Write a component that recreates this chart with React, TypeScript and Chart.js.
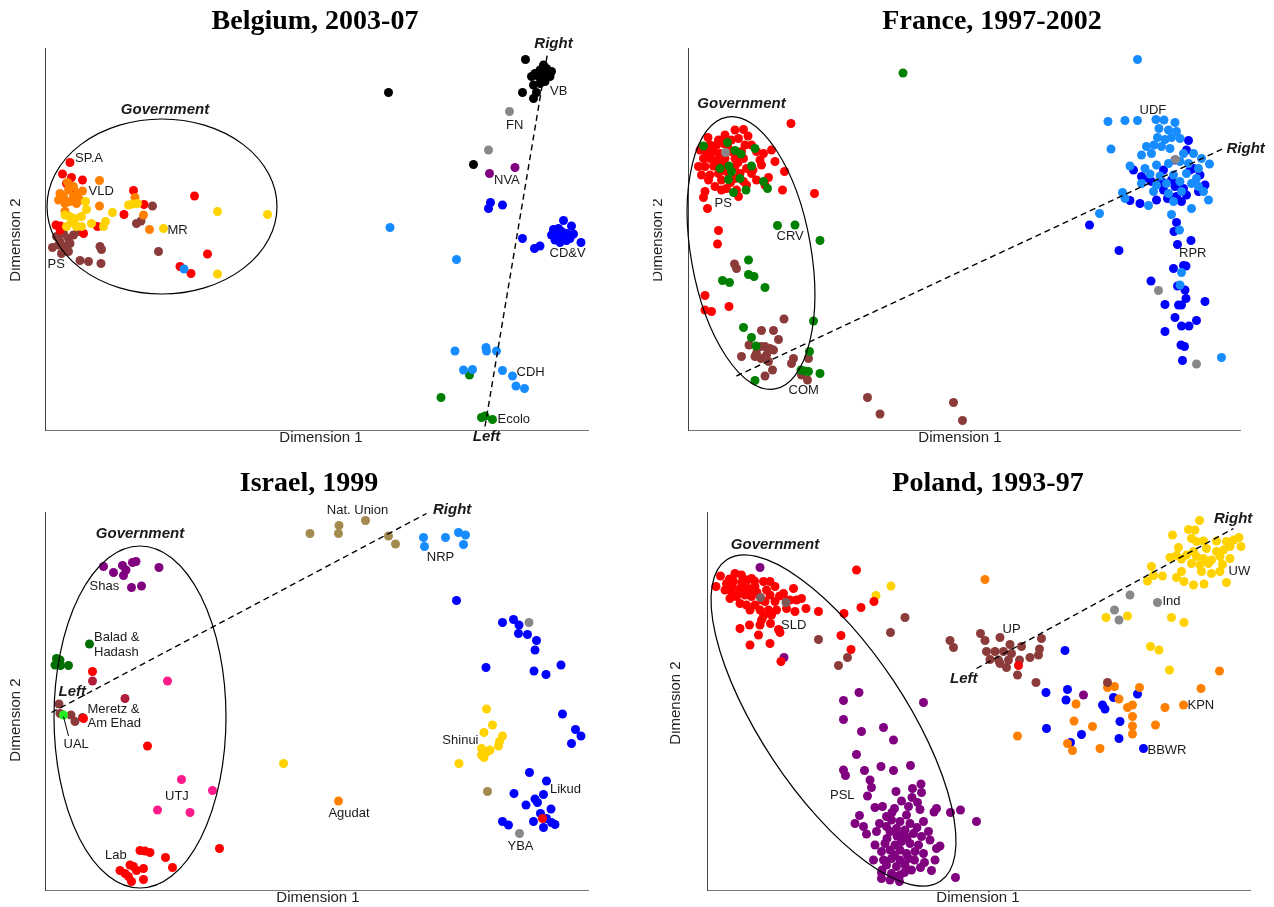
import React, { useEffect, useRef } from 'react';
import { Chart, registerables } from 'chart.js';
Chart.register(...registerables);

type Pt = [number, number];
type Lbl = [string, number, number, CanvasTextAlign, boolean?];

// ---------- colours ----------
const RED = '#FF0000';
const ORANGE = '#FF8000';
const GOLD = '#FFD200';
const BROWN = '#8C3B3B';
const BLUE = '#0000FF';
const LTBLUE = '#178CFF';
const BLACK = '#000000';
const GRAY = '#888888';
const PURPLE = '#800080';
const GREEN = '#008000';
const DKGREEN = '#006E00';
const LTGREEN = '#22EE22';
const PINK = '#FF1A8C';
const TAN = '#A38A4F';
const CRIMSON = '#B01E3C';
const BROWNGRAY = '#7E5A5A';

// ---------- Belgium, 2003-07 ----------
const BE_RED: Pt[] = [[5,53.5],[3.5,51.2],[5.3,50.5],[4.3,49.3],[7.5,50],[5.7,48],[29.9,46.8],[32.5,35.2],[27,32.7],[29.2,31.3],[17.7,47.9],[19.8,45.1],[15.8,43.1],[10.5,40.7],[2.2,41],[3.1,40.8],[7.7,39.3],[3,40]];
const BE_ORANGE: Pt[] = [[10.9,49.9],[5.7,48.7],[4.7,48],[3,47.3],[3.7,46.7],[5.7,46.7],[7,46],[7.5,47.8],[4,45.3],[5,45.7],[6.3,45.3],[10.9,44.8],[18,46.5],[19.7,43],[20.9,40.1],[4,43.7],[2.7,46],[6.5,47.3],[4.5,49.5]];
const BE_GOLD: Pt[] = [[8.1,45.7],[8.3,44.1],[4.9,42.7],[4,43],[5.3,41.5],[6.3,40.7],[7.3,40.7],[4.3,40.7],[9.3,41.3],[11.7,40.7],[12.1,41.7],[13.5,43.5],[16.7,45],[17.5,45.2],[18.5,45.3],[23.7,40.3],[34.5,43.7],[44.5,43.1],[34.5,31.2],[7.3,42.7],[6,42.3]];
const BE_BROWN: Pt[] = [[2.3,38.7],[3.7,39.3],[4.7,38.3],[5.7,39],[6.7,39.7],[2.7,37],[4,36.7],[5,37.3],[3.3,35.3],[4.7,35.7],[3,37.7],[11,36.7],[11.3,36.1],[7,33.9],[8.7,33.7],[11.2,33.3],[22.7,35.7],[18.3,41.3],[19.2,41.8],[21.5,44.8],[1.5,36.5]];
const BE_LTBLUE: Pt[] = [[27.8,32.2],[69,40.5],[82.3,34.1],[82,15.8],[88.2,16.5],[88.3,15.8],[90.3,15.8],[83.7,12],[85.5,12.1],[91.5,11.9],[93.5,10.8],[94.2,8.8],[95.9,8.3]];
const BE_BLACK: Pt[] = [[96.1,74.1],[99.7,73],[100.3,72.3],[99,72],[101.3,71.7],[98,71.3],[97.3,70.7],[98.7,70.7],[100,71],[101,70.7],[99.3,70],[97.7,69],[100,69.7],[99,69.3],[95.5,67.5],[98.3,67.5],[97.7,66.3],[68.7,67.5],[85.7,53.1]];
const BE_GRAY: Pt[] = [[92.9,63.7],[88.7,56]];
const BE_PURPLE: Pt[] = [[94,52.5],[88.9,51.3]];
const BE_BLUE: Pt[] = [[89.1,45.5],[88.7,44.3],[91.5,45],[95.5,38.3],[97.9,36.3],[99,36.8],[103.7,41.9],[105.3,40.8],[101.7,40.1],[102.7,40.3],[103.3,39.7],[101.3,39],[102.3,39],[104.3,39.3],[105.7,39.2],[103.7,38.3],[105,38.3],[103,37.5],[104.3,37.9],[107.2,37.5],[102,38]];
const BE_GREEN: Pt[] = [[84.9,11],[79.2,6.5],[87.3,2.5],[88,2.8],[89.5,2.1]];
const BE_LABELS: Lbl[] = [
  ['Government', 24, 64, 'center', true], ['SP.A', 6, 54.4, 'left'], ['VLD', 8.7, 47.7, 'left'],
  ['MR', 24.5, 39.9, 'left'], ['PS', 0.5, 33.1, 'left'], ['Right', 101.7, 77.2, 'center', true],
  ['VB', 101, 67.7, 'left'], ['FN', 92.2, 60.9, 'left'], ['NVA', 89.8, 49.9, 'left'],
  ['CD&V', 100.9, 35.3, 'left'], ['CDH', 94.3, 11.5, 'left'], ['Ecolo', 90.5, 2.1, 'left'],
  ['Left', 88.3, -1.4, 'center', true],
];
const BE_ELLIPSE: [number, number, number, number, number] = [23.4, 44.7, 23, 17.5, 0];
const BE_DASHED: Pt[] = [[88, 0.7], [100.5, 75.3]];

// ---------- France, 1997-2002 ----------
const FR_RED: Pt[] = [[20.6,61.3],[9.4,60],[11.1,60.1],[7.4,59],[6.1,58],[8.7,58],[10.1,58.3],[4.4,57],[5.7,57],[7.1,57.3],[11.4,57],[12.7,57],[2.4,56],[3.7,55.7],[5.1,55.7],[6.4,55.3],[8.7,55.7],[10.7,55.7],[13.7,55.7],[15.1,55.3],[16.7,56],[3.1,54.3],[4.4,54.3],[5.7,54],[7.4,54.3],[9.4,54.3],[11.1,54.3],[14.4,54],[2.1,52.7],[3.4,52.7],[5.1,52.8],[6.7,53],[9.4,52.7],[11.7,52.3],[14.7,53],[17.4,53.7],[2.7,51],[4.4,51],[6.1,51.3],[7.7,51.7],[10.4,51.3],[12.7,51.3],[16.1,50.5],[4.1,50],[6.7,50],[9.4,50.3],[11.1,49.7],[13.7,50],[19.3,51.7],[15.4,49],[5.4,48.7],[7.7,48.3],[11.7,49],[3.4,47.7],[6.7,48],[9.7,48],[3.1,46.5],[10.1,46.7],[3.9,44.3],[18.9,48],[25.3,47.3],[6.1,39.9],[5.9,37.2],[3.4,26.9],[3.4,24],[4.7,23.7],[8.2,24.7],[8,56.5],[12,58.8],[4,58.5],[13,52],[10,53.5],[7,52],[8.5,49.5]];
const FR_GREEN: Pt[] = [[3.1,56.8],[7.9,57.5],[9.4,55.9],[10.6,55.2],[13.4,56.3],[6.4,52.3],[8.2,52.8],[8.7,51.7],[12.7,52.8],[8.1,50.1],[10.4,50.3],[15.1,49.7],[15.9,48.3],[9.1,47.5],[11.6,48],[17.9,40.9],[21.4,41],[26.4,37.9],[12.1,34],[12.1,31.1],[13.2,30.7],[6.9,29.9],[8.3,29.5],[15.4,28.5],[11.1,20.5],[12.7,18.5],[13.6,16.8],[25.1,21.8],[24.3,15.7],[22.6,12],[24.1,11.7],[26.4,11.3],[13.4,9.9],[23.4,11.8],[43,71.4]];
const FR_BROWN: Pt[] = [[9.3,33.2],[9.7,32.3],[19.2,22.2],[14.7,19.9],[17.1,19.9],[12.2,17],[14.6,16.7],[15.4,16.7],[16.4,16.3],[13.7,15.3],[15.7,15],[17.1,16],[18.1,18.1],[10.7,14.7],[13.4,14.7],[14.6,14.3],[16.1,13.7],[21.1,14.3],[20.7,13.3],[24.1,14.3],[16.9,12],[15.4,10.8],[22.7,11],[23.9,10],[35.9,6.5],[38.4,3.2],[53.1,5.5],[54.9,1.9]];
const FR_GRAY: Pt[] = [[7.5,55.5],[97.5,54.1],[94.1,27.9],[101.7,13.2]];
const FR_LTBLUE: Pt[] = [[89.9,74.1],[84,61.7],[87.4,61.9],[89.9,61.9],[93.6,62.1],[95.2,62],[97.4,61.5],[94.2,60.3],[96.1,60],[97.7,59.7],[93.9,58.5],[95.4,58.1],[96.7,58.5],[98.4,58.3],[84.6,56.2],[91.7,56.7],[93.2,57],[94.7,56.7],[96.4,56.3],[90.7,55],[92.7,55.3],[99.1,55.3],[101.1,55.3],[102.7,54.3],[104.3,53.2],[88.4,52.8],[91.4,52.3],[93.7,53],[96.1,53.3],[98.4,53.7],[100.1,53.3],[102.1,52.3],[92.4,51.2],[94.4,50.8],[97.1,51],[99.7,51.3],[101.7,50.3],[90.7,49.3],[93.7,49],[95.7,49.3],[98.4,49.7],[100.7,49.3],[102.1,48.7],[86.9,47.5],[87.4,46.3],[93.1,47.7],[96.1,47.3],[98.7,47.7],[103.1,47.7],[97.1,45.7],[92.1,44.9],[100.7,44.3],[104.1,46],[82.3,43.3],[96.7,43.1],[98.3,40],[98.7,31.5],[98.4,29],[106.7,14.5]];
const FR_BLUE: Pt[] = [[100.1,57.9],[80.3,41],[89.1,52],[90.7,50.7],[92.1,50.3],[95.1,52],[97.4,54],[99.7,56],[100.4,52],[102.4,51],[92.7,49.7],[94.7,49.7],[96.7,50],[97.4,48.7],[95.1,48],[99.1,48.3],[102.1,47.7],[103.4,49],[97.7,46.7],[99.7,47],[88.4,45.9],[90.4,45.3],[93.7,46],[95.9,46.3],[98.7,45.7],[101.1,52.3],[97.7,41.5],[97.2,39.7],[97.9,37.1],[100.6,37.9],[86.2,35.9],[99.1,32.9],[99.6,32.8],[97.1,32.3],[92.6,29.8],[97.9,28.8],[99.4,28],[99.6,26.3],[95.4,25.1],[98.1,25],[98.7,25],[103.4,25.7],[97.4,22.5],[98.7,20.8],[100.2,20.8],[101.7,21.9],[95.4,19.7],[98.6,17],[99.3,16.7],[98.9,13.9]];
const FR_LABELS: Lbl[] = [
  ['Government', 10.7, 65.2, 'center', true], ['PS', 5.3, 45.3, 'left'], ['CRV', 17.7, 38.7, 'left'],
  ['COM', 20.1, 8, 'left'], ['UDF', 90.3, 63.9, 'left'], ['RPR', 98.2, 35.3, 'left'],
  ['Right', 107.7, 56.2, 'left', true],
];
const FR_ELLIPSE: [number, number, number, number, number] = [12.6, 35.4, 12, 27.6, -10];
const FR_DASHED: Pt[] = [[9.7, 10.8], [107.1, 56.3]];

// ---------- Israel, 1999 ----------
const IL_SHAS: Pt[] = [[11.7,64.7],[13.7,63.5],[15.5,64.9],[16.2,64],[15.7,62.9],[17.5,65.5],[18.2,65.7],[22.8,64.5],[17.3,60.5],[19.3,60.8]];
const IL_DKGREEN: Pt[] = [[8.9,49.2],[2.3,46.3],[3,46],[2,45],[3.1,44.9],[4.7,44.9]];
const IL_LTGREEN: Pt[] = [[3.7,35]];
const IL_RED: Pt[] = [[9.5,43.7],[20.5,28.8],[34.9,8.3],[24.1,6.5],[25.5,4.5],[19,7.9],[20,7.8],[21,7.5],[17,5],[17.7,4.7],[15,3.9],[16,3.3],[16.7,2.7],[18.3,3.9],[19.7,4.3],[19.7,2.1],[17.3,1.7],[7.7,34.3],[99.5,14.3]];
const IL_CRIMSON: Pt[] = [[9.5,41.8],[16,38.3]];
const IL_BROWN: Pt[] = [[2.8,37.2],[3,35.3],[5.2,35],[6,33.7],[7.5,34.5]];
const IL_PINK: Pt[] = [[24.5,41.8],[27.3,22.1],[33.5,19.9],[22.5,16],[29,15.5]];
const IL_GOLD: Pt[] = [[47.7,25.3],[88.3,36.2],[89.5,33],[87.8,31.5],[91.5,30.8],[90.9,29.7],[90.7,28.8],[87.3,28.3],[89,28],[88.5,27.7],[87.3,27],[87.8,26.5],[82.8,25.3]];
const IL_TAN: Pt[] = [[53,71.3],[58.8,72.9],[58.7,71.3],[64.1,73.9],[68.7,70.8],[70.1,69.2],[88.5,19.7]];
const IL_LTBLUE: Pt[] = [[75.7,70.5],[75.9,68.7],[80.1,70.5],[82.7,71.5],[84.1,71],[83.7,69.1]];
const IL_BLUE: Pt[] = [[82.3,57.9],[91.5,53.5],[93.7,54.1],[94.8,53],[94.7,51.3],[96.5,51.1],[98.3,49.9],[98,48],[88.2,44.5],[97.8,43.8],[100.2,43.1],[103.2,45],[103.5,35.2],[106.1,32.1],[107.2,30.8],[105.3,29.3],[96.9,23.5],[100.3,21.8],[93.8,19.3],[99.7,19.1],[98,18.2],[98.5,17.5],[96.2,17],[101.2,16.2],[99.1,15.3],[97.7,13.7],[91.5,13.7],[92.7,13],[99.7,12.5],[101.3,13.5],[102,13.1],[100.3,14.3]];
const IL_GRAY: Pt[] = [[96.8,53.5],[94.9,11.3]];
const IL_ORANGE: Pt[] = [[58.7,17.8]];
const IL_LABELS: Lbl[] = [
  ['Government', 19, 71.3, 'center', true], ['Shas', 8.9, 60.8, 'left'], ['Balad &', 9.8, 50.5, 'left'],
  ['Hadash', 9.8, 47.5, 'left'], ['Left', 2.7, 39.7, 'left', true], ['Meretz &', 8.5, 36.2, 'left'],
  ['Am Ehad', 8.5, 33.3, 'left'], ['UAL', 3.7, 29.1, 'left'], ['UTJ', 24, 18.7, 'left'], ['Lab', 12, 7, 'left'],
  ['Nat. Union', 62.5, 75.9, 'center'], ['Right', 77.6, 76, 'left', true], ['NRP', 79.1, 66.5, 'center'],
  ['Shinui', 86.7, 30, 'right'], ['Likud', 101, 20.1, 'left'], ['Agudat', 60.8, 15.3, 'center'],
  ['YBA', 95.1, 8.8, 'center'],
];
const IL_ELLIPSE: [number, number, number, number, number] = [19, 34.6, 17.2, 34.2, 0];
const IL_DASHED: Pt[] = [[1.3, 35.5], [76.3, 75.3]];
const IL_LEADER: Pt[] = [[3.7, 34.7], [4.7, 30.8]];

// ---------- Poland, 1993-97 ----------
const PL_RED: Pt[] = [[2.7,62.8],[1.8,60.7],[5.6,63.3],[6.9,63],[8.9,62.3],[3.9,61.3],[5.3,61.7],[11.3,61.7],[12.6,61.7],[3.6,60],[4.9,59.7],[6.6,60.3],[8.3,60.3],[9.6,60.7],[11.9,60],[13.6,60.7],[4.6,58.3],[5.9,58.7],[7.6,59],[8.9,58.7],[12.6,59],[15.3,59.3],[17.3,60.3],[6.6,57.3],[7.9,57],[9.6,57],[11.6,57.7],[13.6,57.7],[16.6,58],[17.9,58],[18.9,58.3],[8.6,56],[10.6,56],[12.3,56],[13.9,56],[15.9,56.3],[17.6,55.7],[19.8,56.3],[22.3,55.7],[11.3,54.8],[12.9,55],[10.9,54],[6.6,52.3],[8.5,53],[10.6,53],[12.7,53.3],[14.3,52.1],[14.6,51.5],[10.3,51],[8.6,49],[12.6,49.3],[14.8,45.7],[29.9,64],[27.4,55.3],[30.8,56.5],[33.4,57.7],[26.8,50.9],[28.8,48.1],[62.3,44.9],[7,61.5],[10,59.5],[6,59],[9.5,61.8],[4.5,62.2],[11,58],[7.5,60.5],[5,60.6],[8,62],[9,59.3],[14.5,58.8],[16,57.8]];
const PL_BROWNGRAY: Pt[] = [[10.7,58.5],[15.8,57.5]];
const PL_BROWN: Pt[] = [[22.3,50.1],[28.1,46.5],[26.3,44.9],[36.7,51.5],[39.6,54.5],[48.6,49.9],[49.3,48.5],[54.7,51.3],[55.6,49.9],[58.6,50.5],[60.6,49.1],[62.9,48.7],[66.9,50.3],[55.9,47.7],[57.6,47.7],[59.3,47.7],[60.9,47.3],[56.6,46.1],[58.3,46],[60.3,46],[62.5,46],[64.6,46.5],[66.3,47],[66.5,48.2],[58.6,45.3],[59.9,44.5],[62.1,43],[65.8,41.5],[80.1,41.5]];
const PL_PURPLE: Pt[] = [[10.6,64.5],[15.4,46.5],[30.4,39.5],[27.3,37.9],[43.3,37.5],[27.3,34.1],[30.9,31.7],[35.3,32.5],[37.3,30],[29.9,27.1],[27.3,24],[27.7,22.9],[31.5,23.9],[34.8,24.7],[37.3,23.9],[40.7,24.9],[32.6,22],[32.9,20.5],[32.1,18.8],[37.8,19.7],[41.1,20.3],[42.8,21.2],[42.9,19.5],[38.9,17.8],[41,18.5],[42.1,17.5],[33.6,16.5],[35.1,16.7],[37.5,16.3],[40.3,16.7],[42.6,16.1],[45.9,16.3],[48.7,15.5],[50.7,16],[53.9,13.7],[30.5,14.9],[29.6,13.3],[31.3,12.7],[31.9,11.2],[33.9,11.7],[35.9,14.7],[36.9,14],[38.6,13.7],[39.9,15],[40.6,13.3],[43.3,13.7],[35.9,12.7],[37.9,12.3],[39.6,12],[36.6,11.7],[41.3,11.3],[44.3,11.7],[42.9,10.7],[44.6,10],[33.6,9],[35.6,9.3],[37.6,9],[38.9,9.7],[40.6,9.3],[42.3,9],[46.6,8.8],[34.9,7.7],[36.6,8],[38.6,8],[39.9,7.3],[41.6,7.7],[43.3,7.3],[45.9,8.3],[33.3,6],[35.3,6],[36.9,6.3],[38.6,6],[40.3,6.3],[45.6,6],[35.9,5],[37.9,4.7],[39.6,5],[40.9,4],[42.7,4.5],[44.9,3.9],[34.9,3.5],[36.9,3.3],[38.6,3],[36.6,2],[38.5,1.7],[49.7,2.5],[34.9,2.3],[37.9,2.7],[75.3,39],[45.4,15.6],[36,10.3],[38,10.8],[40,10.5],[34.5,13.3],[42,12.5],[37,15.5],[39,11],[41.5,6],[43.5,5.5],[37.5,7],[35,4],[39.5,3.5]];
const PL_GOLD: Pt[] = [[36.8,60.8],[33.8,58.9],[98.5,73.9],[96.3,72.1],[97.6,72],[93.1,71],[96.9,70.3],[97.9,69.7],[99.3,69.8],[94.3,68.5],[101.9,69.8],[103.9,69.7],[105.3,70],[106.4,70.5],[106.8,68.7],[104.6,68.7],[103.3,68],[101.9,67.7],[99.9,68.3],[97.3,67.7],[95.9,67],[93.9,66.9],[92.6,66.5],[94.9,66.2],[97.9,66.7],[99.3,66.3],[100.9,66],[102.6,66.7],[104.6,66.3],[96.9,65.3],[98.6,65],[100.3,65.3],[103.1,65.1],[88.9,64.7],[94.9,63.7],[98.9,63.7],[100.9,63.3],[102.6,63.7],[89.3,62.9],[91.1,62.8],[93.9,62.5],[88.1,61.8],[95.4,61.7],[97.3,61],[99.4,61.2],[103.9,61.5],[79.8,54.5],[84.1,54.8],[92.9,54.5],[95.4,53.5],[88.7,48.7],[90.4,48],[92.5,44]];
const PL_ORANGE: Pt[] = [[55.6,62.1],[80.1,40.5],[81.5,40.7],[82.4,38.2],[86.5,40.5],[73.8,37.2],[84.1,36.5],[85.1,37],[85.1,34.7],[85.1,32.8],[85.1,31.2],[91.6,36.5],[95.3,37],[98.8,40.3],[102.5,43.8],[89.7,33],[73.4,33.8],[77.1,32.7],[62.1,30.8],[72.1,29.3],[73.1,27.9],[78.6,28.3]];
const PL_BLUE: Pt[] = [[71.6,47.9],[67.8,39.5],[72.1,40.1],[71.8,38],[81.3,38.5],[79.1,37],[79.6,36.2],[86.1,39.2],[82.6,33.7],[67.9,32.3],[74.9,31.1],[82.4,30.3],[72.7,29.5],[87.3,28.3]];
const PL_GRAY: Pt[] = [[84.6,59],[81.5,56],[82.4,54],[90.1,57.5]];
const PL_LABELS: Lbl[] = [
  ['Government', 13.6, 69, 'center', true], ['SLD', 14.8, 53, 'left'], ['PSL', 24.6, 18.9, 'left'],
  ['Left', 48.6, 42.3, 'left', true], ['UP', 59.1, 52.2, 'left'], ['Ind', 91.1, 57.7, 'left'],
  ['UW', 104.3, 63.8, 'left'], ['Right', 101.4, 74.2, 'left', true], ['KPN', 96.1, 37, 'left'],
  ['BBWR', 88.1, 27.9, 'left'],
];
const PL_ELLIPSE: [number, number, number, number, number] = [25.3, 33.9, 38.6, 14.4, 56.4];
const PL_DASHED: Pt[] = [[53.9, 44.3], [105.3, 72.3]];

// ---------- panel configs ----------
interface Series { color: string; pts: Pt[] }
interface PanelCfg {
  title: string;
  left: number; top: number; width: number; height: number;
  pad: { left: number; top: number; right: number; bottom: number };
  xMax: number; yMax: number;
  series: Series[];
  labels: Lbl[];
  ellipse: [number, number, number, number, number];
  dashed: Pt[];
  leader?: Pt[];
  titlePos: [number, number];
  xTitlePos: [number, number];
  yTitlePos: [number, number, number];
}

const PANELS: PanelCfg[] = [
  {
    title: 'Belgium, 2003-07', left: 0, top: 0, width: 637, height: 453,
    pad: { left: 45, top: 48, right: 49, bottom: 23 }, xMax: 108.6, yMax: 76.4,
    series: [
      { color: LTBLUE, pts: BE_LTBLUE }, { color: GRAY, pts: BE_GRAY }, { color: PURPLE, pts: BE_PURPLE },
      { color: BLACK, pts: BE_BLACK }, { color: BLUE, pts: BE_BLUE }, { color: GREEN, pts: BE_GREEN },
      { color: GOLD, pts: BE_GOLD }, { color: ORANGE, pts: BE_ORANGE }, { color: RED, pts: BE_RED },
      { color: BROWN, pts: BE_BROWN },
    ],
    labels: BE_LABELS, ellipse: BE_ELLIPSE, dashed: BE_DASHED,
    titlePos: [315, 29], xTitlePos: [321, 438], yTitlePos: [20, 240, 10],
  },
  {
    title: 'France, 1997-2002', left: 637, top: 0, width: 637, height: 453,
    pad: { left: 51, top: 48, right: 34, bottom: 23 }, xMax: 110.4, yMax: 76.4,
    series: [
      { color: GRAY, pts: FR_GRAY }, { color: GREEN, pts: FR_GREEN }, { color: LTBLUE, pts: FR_LTBLUE },
      { color: BLUE, pts: FR_BLUE }, { color: BROWN, pts: FR_BROWN }, { color: RED, pts: FR_RED },
    ],
    labels: FR_LABELS, ellipse: FR_ELLIPSE, dashed: FR_DASHED,
    titlePos: [355, 29], xTitlePos: [323, 438], yTitlePos: [25, 240, 16],
  },
  {
    title: 'Israel, 1999', left: 0, top: 453, width: 637, height: 454,
    pad: { left: 45, top: 59, right: 49, bottom: 17 }, xMax: 108.6, yMax: 75.6,
    series: [
      { color: RED, pts: IL_RED }, { color: GRAY, pts: IL_GRAY }, { color: LTGREEN, pts: IL_LTGREEN },
      { color: CRIMSON, pts: IL_CRIMSON }, { color: BROWN, pts: IL_BROWN }, { color: PINK, pts: IL_PINK },
      { color: DKGREEN, pts: IL_DKGREEN }, { color: PURPLE, pts: IL_SHAS }, { color: TAN, pts: IL_TAN },
      { color: LTBLUE, pts: IL_LTBLUE }, { color: GOLD, pts: IL_GOLD }, { color: ORANGE, pts: IL_ORANGE },
      { color: BLUE, pts: IL_BLUE },
    ],
    labels: IL_LABELS, ellipse: IL_ELLIPSE, dashed: IL_DASHED, leader: IL_LEADER,
    titlePos: [309, 38], xTitlePos: [318, 445], yTitlePos: [20, 267, 10],
  },
  {
    title: 'Poland, 1993-97', left: 637, top: 453, width: 637, height: 454,
    pad: { left: 70, top: 59, right: 24, bottom: 17 }, xMax: 108.6, yMax: 75.6,
    series: [
      { color: BROWNGRAY, pts: PL_BROWNGRAY }, { color: GRAY, pts: PL_GRAY }, { color: RED, pts: PL_RED },
      { color: BROWN, pts: PL_BROWN }, { color: GOLD, pts: PL_GOLD }, { color: ORANGE, pts: PL_ORANGE },
      { color: BLUE, pts: PL_BLUE }, { color: PURPLE, pts: PL_PURPLE },
    ],
    labels: PL_LABELS, ellipse: PL_ELLIPSE, dashed: PL_DASHED,
    titlePos: [351, 38], xTitlePos: [341, 445], yTitlePos: [43, 250, 33],
  },
];

const SANS = '"Liberation Sans", Arial, sans-serif';

function overlayPlugin(p: PanelCfg) {
  return {
    id: 'overlay',
    afterDatasetsDraw(chart: any) {
      const ctx: CanvasRenderingContext2D = chart.ctx;
      const xs = chart.scales.x, ys = chart.scales.y;
      const X = (v: number) => xs.getPixelForValue(v);
      const Y = (v: number) => ys.getPixelForValue(v);
      const u = X(1) - X(0);
      ctx.save();
      const [cx, cy, rx, ry, deg] = p.ellipse;
      ctx.beginPath();
      ctx.ellipse(X(cx), Y(cy), rx * u, ry * u, (deg * Math.PI) / 180, 0, Math.PI * 2);
      ctx.lineWidth = 1.2;
      ctx.strokeStyle = '#000';
      ctx.stroke();

      ctx.fillStyle = '#1a1a1a';
      ctx.textBaseline = 'middle';
      for (const [t, lx, ly, al, b] of p.labels) {
        ctx.font = b ? `italic bold 15px ${SANS}` : `13px ${SANS}`;
        ctx.textAlign = al;
        ctx.fillText(t, X(lx), Y(ly));
      }

      ctx.fillStyle = '#000';
      ctx.font = 'bold 28px "Liberation Serif", serif';
      ctx.textAlign = 'center';
      ctx.textBaseline = 'alphabetic';
      ctx.fillText(p.title, p.titlePos[0], p.titlePos[1]);

      ctx.fillStyle = '#222';
      ctx.font = `15px ${SANS}`;
      ctx.textBaseline = 'middle';
      ctx.fillText('Dimension 1', p.xTitlePos[0], p.xTitlePos[1]);

      ctx.save();
      ctx.beginPath();
      ctx.rect(p.yTitlePos[2], 0, 200, chart.height);
      ctx.clip();
      ctx.translate(p.yTitlePos[0], p.yTitlePos[1]);
      ctx.rotate(-Math.PI / 2);
      ctx.textAlign = 'center';
      ctx.textBaseline = 'alphabetic';
      ctx.fillText('Dimension 2', 0, 0);
      ctx.restore();
      ctx.restore();
    },
  };
}

function Panel({ p }: { p: PanelCfg }) {
  const ref = useRef<HTMLCanvasElement | null>(null);
  useEffect(() => {
    if (!ref.current) return;
    const datasets: any[] = [
      {
        data: p.dashed.map(([x, y]) => ({ x, y })), showLine: true, borderColor: '#000', borderWidth: 1.4,
        borderDash: [6, 4], pointRadius: 0, fill: false, clip: false,
      },
    ];
    if (p.leader) {
      datasets.push({
        data: p.leader.map(([x, y]) => ({ x, y })), showLine: true, borderColor: '#000', borderWidth: 1,
        pointRadius: 0, fill: false, clip: false,
      });
    }
    for (const s of p.series) {
      datasets.push({
        data: s.pts.map(([x, y]) => ({ x, y })), showLine: false, pointRadius: 4.5,
        pointBackgroundColor: s.color, backgroundColor: s.color, pointBorderWidth: 0, borderWidth: 0, clip: false,
      });
    }
    const axis = (max: number, color: string) => ({
      type: 'linear' as const, min: 0, max,
      ticks: { display: false },
      grid: { display: false, drawTicks: false },
      border: { display: true, color, width: 1 },
      title: { display: false },
    });
    const chart = new Chart(ref.current, {
      type: 'scatter',
      data: { datasets },
      options: {
        animation: false, responsive: false, maintainAspectRatio: false, events: [],
        layout: { padding: p.pad },
        plugins: { legend: { display: false }, tooltip: { enabled: false }, title: { display: false } },
        scales: { x: axis(p.xMax, '#777'), y: axis(p.yMax, '#444') },
      },
      plugins: [overlayPlugin(p)],
    } as any);
    return () => chart.destroy();
  }, [p]);
  return (
    <canvas ref={ref} width={p.width} height={p.height}
      style={{ position: 'absolute', left: p.left, top: p.top, width: p.width, height: p.height }} />
  );
}

export default function App() {
  return (
    <div style={{ position: 'absolute', left: 0, top: 0, width: 1274, height: 907, background: '#fff', overflow: 'hidden' }}>
      {PANELS.map((p) => <Panel key={p.title} p={p} />)}
    </div>
  );
}
